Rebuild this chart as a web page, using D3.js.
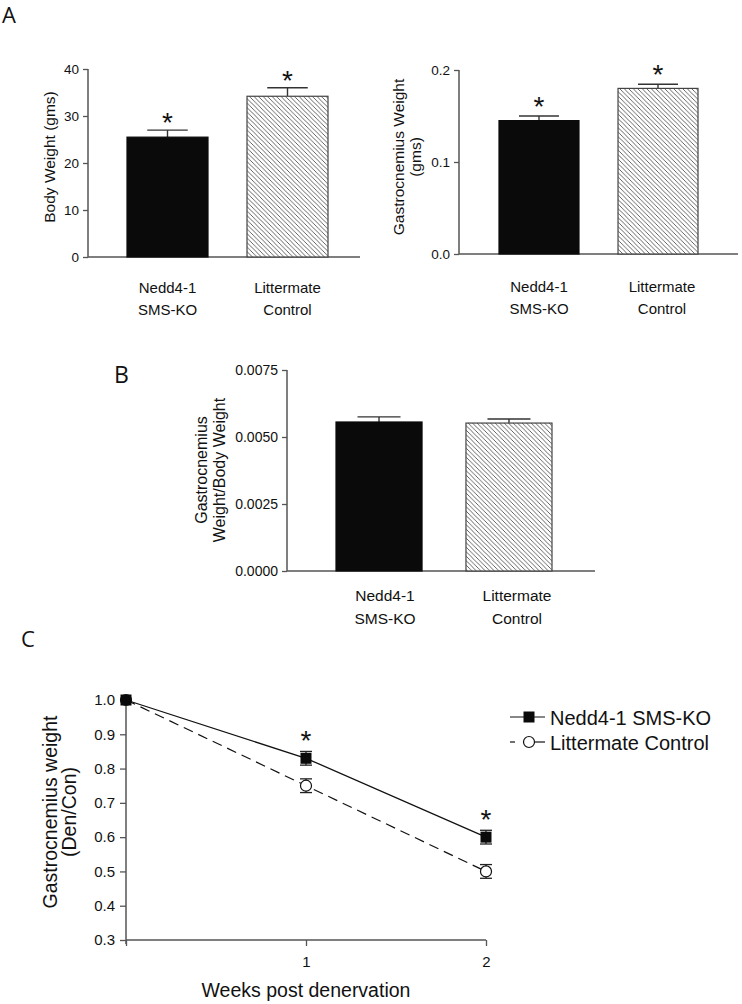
<!DOCTYPE html>
<html>
<head>
<meta charset="utf-8">
<script src="https://cdn.jsdelivr.net/npm/d3@7"></script>
<style>
  html, body { margin: 0; padding: 0; background: #fff; }
  svg { display: block; }
  text { font-family: "Liberation Sans", Arial, sans-serif; fill: #111; }
</style>
</head>
<body>
<svg id="chart" width="742" height="1004"></svg>
<script>
// ---------- data ----------
const groups = ["Nedd4-1 SMS-KO", "Littermate Control"];
const groupLabelLines = [["Nedd4-1", "SMS-KO"], ["Littermate", "Control"]];

const bodyWeight = [25.5, 34.2];
const bodyWeightErr = [1.5, 1.8];
const bodyWeightSig = [true, true];
const bodyWeightTicks = [0, 10, 20, 30, 40];

const gastroWeight = [0.145, 0.180];
const gastroWeightErr = [0.005, 0.0045];
const gastroWeightSig = [true, true];
const gastroWeightTicks = [0.0, 0.1, 0.2];

const ratioWeight = [0.00556, 0.00552];
const ratioWeightErr = [0.00019, 0.00015];
const ratioTicks = [0.0, 0.0025, 0.005, 0.0075];

const weeks = [0, 1, 2];
const weekTickLabels = ["", "1", "2"];
const koMean = [1.0, 0.83, 0.60];
const koErr = [0, 0.02, 0.02];
const ctrlMean = [1.0, 0.75, 0.50];
const ctrlErr = [0, 0.02, 0.02];
const weekSig = [false, true, true];
const ratioLineTicks = [0.3, 0.4, 0.5, 0.6, 0.7, 0.8, 0.9, 1.0];

// ---------- setup ----------
const svg = d3.select("#chart");
const AXIS = "#555";
const FONT = '"Liberation Sans", Arial, sans-serif';

const defs = svg.append("defs");
const pat = defs.append("pattern")
  .attr("id", "hatch").attr("patternUnits", "userSpaceOnUse")
  .attr("width", 4.5).attr("height", 4.5);
pat.append("rect").attr("width", 4.5).attr("height", 4.5).attr("fill", "#fff");
pat.append("path")
  .attr("d", "M-1,-1 L5.5,5.5 M-1,3.5 L1,5.5 M3.5,-1 L5.5,1")
  .attr("stroke", "#555").attr("stroke-width", 0.9);

function panelLetter(t, x, y, size) {
  svg.append("text").attr("x", x).attr("y", y)
    .style("font-family", '"Open Sans", "DejaVu Sans", sans-serif')
    .style("font-size", size + "px").text(t);
}

function styleAxis(g) {
  g.selectAll("path.domain").remove();
  g.selectAll("line").attr("stroke", AXIS).attr("stroke-width", 1.3);
}

function barPanel(o) {
  const g = svg.append("g");
  const x = d3.scaleBand().domain(groups).range(o.xr).paddingInner(o.padIn).paddingOuter(0);
  const y = d3.scaleLinear().domain(o.yDomain).range(o.yr);

  // y axis
  const ya = g.append("g").attr("transform", `translate(${o.axisX},0)`)
    .call(d3.axisLeft(y).tickValues(o.ticks).tickFormat(d3.format(o.fmt)).tickSize(5).tickPadding(4));
  styleAxis(ya);
  ya.selectAll("text").style("font-size", o.tickFont + "px").style("font-family", FONT).attr("fill", "#222");
  g.append("line").attr("x1", o.axisX).attr("x2", o.axisX)
    .attr("y1", y(o.yDomain[1])).attr("y2", y(o.yDomain[0]))
    .attr("stroke", AXIS).attr("stroke-width", 1.5);
  // x axis baseline
  g.append("line").attr("x1", o.axisX).attr("x2", o.xEnd)
    .attr("y1", y(0)).attr("y2", y(0)).attr("stroke", AXIS).attr("stroke-width", 1.5);

  // error bars (upper only)
  const cap = x.bandwidth() * 0.25;
  o.values.forEach((v, i) => {
    const cx = x(groups[i]) + x.bandwidth() / 2;
    g.append("line").attr("x1", cx).attr("x2", cx)
      .attr("y1", y(v)).attr("y2", y(v + o.err[i])).attr("stroke", "#333").attr("stroke-width", 1.4);
    g.append("line").attr("x1", cx - cap).attr("x2", cx + cap)
      .attr("y1", y(v + o.err[i])).attr("y2", y(v + o.err[i])).attr("stroke", "#333").attr("stroke-width", 1.4);
  });

  // bars
  g.selectAll("rect.bar").data(o.values).enter().append("rect")
    .attr("x", (d, i) => x(groups[i]))
    .attr("y", d => y(d))
    .attr("width", x.bandwidth())
    .attr("height", d => y(0) - y(d))
    .attr("fill", (d, i) => i === 0 ? "#0a0a0a" : "url(#hatch)")
    .attr("stroke", (d, i) => i === 0 ? "#0a0a0a" : "#444")
    .attr("stroke-width", 1.2);

  // significance stars
  if (o.sig) {
    o.values.forEach((v, i) => {
      if (!o.sig[i]) return;
      const cx = x(groups[i]) + x.bandwidth() / 2;
      g.append("text").attr("x", cx).attr("y", y(v + o.err[i]) - o.starGap + 16)
        .attr("text-anchor", "middle").style("font-size", "28px").text("*");
    });
  }

  // category labels
  groupLabelLines.forEach((lines, i) => {
    const cx = x(groups[i]) + x.bandwidth() / 2 + (o.labelShift ? o.labelShift[i] : 0);
    lines.forEach((ln, j) => {
      g.append("text").attr("x", cx).attr("y", o.labelY[j])
        .attr("text-anchor", "middle").style("font-size", o.catFont + "px").text(ln);
    });
  });

  // y label
  const cy = o.labelCY;
  o.yLabel.forEach((ln, j) => {
    g.append("text")
      .attr("transform", `translate(${o.yLabelX[j]},${cy}) rotate(-90)`)
      .attr("text-anchor", "middle").style("font-size", o.labelFont + "px").text(ln);
  });
}

// ---------- Panel A ----------
panelLetter("A", 2, 23, 22);

barPanel({
  xr: [127, 328], padIn: 0.325, axisX: 88, xEnd: 360,
  yDomain: [0, 40], yr: [257, 69], ticks: bodyWeightTicks, fmt: "d",
  values: bodyWeight, err: bodyWeightErr, sig: bodyWeightSig, starGap: 14,
  labelY: [293, 315], catFont: 15, tickFont: 13.5,
  yLabel: ["Body Weight (gms)"], yLabelX: [55], labelCY: 157, labelFont: 15.5
});

barPanel({
  xr: [499, 698], padIn: 0.328, axisX: 459, xEnd: 738,
  yDomain: [0, 0.2], yr: [254, 70], ticks: gastroWeightTicks, fmt: ".1f",
  values: gastroWeight, err: gastroWeightErr, sig: gastroWeightSig, starGap: 16,
  labelY: [292, 314], catFont: 15, tickFont: 13.5, labelShift: [0, 4],
  yLabel: ["Gastrocnemius Weight", "(gms)"], yLabelX: [404, 421], labelCY: 157, labelFont: 15.5
});

// ---------- Panel B ----------
panelLetter("B", 114, 383, 23);

barPanel({
  xr: [336, 552], padIn: 0.338, axisX: 287, xEnd: 595,
  yDomain: [0, 0.0075], yr: [571, 370], ticks: ratioTicks, fmt: ".4f",
  values: ratioWeight, err: ratioWeightErr, sig: null, starGap: 0,
  labelY: [601, 624], catFont: 15.5, tickFont: 14, labelShift: [6, 8],
  yLabel: ["Gastrocnemius", "Weight/Body Weight"], yLabelX: [207, 225], labelCY: 470, labelFont: 16
});

// ---------- Panel C ----------
panelLetter("C", 21, 647, 22);
{
  const g = svg.append("g");
  const x = d3.scaleLinear().domain([0, 2]).range([126, 486]);
  const y = d3.scaleLinear().domain([0.3, 1.0]).range([940, 700]);

  const ya = g.append("g").attr("transform", "translate(126,0)")
    .call(d3.axisLeft(y).tickValues(ratioLineTicks).tickFormat(d3.format(".1f")).tickSize(6).tickPadding(5));
  styleAxis(ya);
  ya.selectAll("text").style("font-size", "15px").style("font-family", FONT).attr("fill", "#222");

  const xa = g.append("g").attr("transform", "translate(0,940)")
    .call(d3.axisBottom(x).tickValues(weeks).tickFormat((d, i) => weekTickLabels[i]).tickSize(6).tickPadding(10));
  styleAxis(xa);
  xa.selectAll("text").style("font-size", "15px").style("font-family", FONT).attr("fill", "#222");

  g.append("line").attr("x1", 126).attr("x2", 126).attr("y1", y(1.0)).attr("y2", y(0.3) + 4)
    .attr("stroke", AXIS).attr("stroke-width", 1.5);
  g.append("line").attr("x1", 126).attr("x2", x(2)).attr("y1", y(0.3)).attr("y2", y(0.3))
    .attr("stroke", AXIS).attr("stroke-width", 1.5);

  const line = d3.line().x((d, i) => x(weeks[i])).y(d => y(d));

  g.append("path").datum(ctrlMean).attr("d", line).attr("fill", "none")
    .attr("stroke", "#111").attr("stroke-width", 1.2).attr("stroke-dasharray", "10,6");
  g.append("path").datum(koMean).attr("d", line).attr("fill", "none")
    .attr("stroke", "#111").attr("stroke-width", 1.3);

  function errBars(means, errs) {
    means.forEach((m, i) => {
      if (!errs[i]) return;
      const cx = x(weeks[i]);
      g.append("line").attr("x1", cx).attr("x2", cx).attr("y1", y(m - errs[i])).attr("y2", y(m + errs[i]))
        .attr("stroke", "#222").attr("stroke-width", 1.3);
      [m - errs[i], m + errs[i]].forEach(v => {
        g.append("line").attr("x1", cx - 6).attr("x2", cx + 6).attr("y1", y(v)).attr("y2", y(v))
          .attr("stroke", "#222").attr("stroke-width", 1.3);
      });
    });
  }
  errBars(ctrlMean, ctrlErr);
  errBars(koMean, koErr);

  g.selectAll("circle.ctrl").data(ctrlMean).enter().append("circle")
    .attr("cx", (d, i) => x(weeks[i])).attr("cy", d => y(d)).attr("r", 5.5)
    .attr("fill", "#fff").attr("stroke", "#111").attr("stroke-width", 1.2);
  g.selectAll("rect.ko").data(koMean).enter().append("rect")
    .attr("x", (d, i) => x(weeks[i]) - 5.5).attr("y", d => y(d) - 5.5)
    .attr("width", 11).attr("height", 11).attr("fill", "#0a0a0a");

  koMean.forEach((m, i) => {
    if (!weekSig[i]) return;
    g.append("text").attr("x", x(weeks[i])).attr("y", y(m + koErr[i]) - 17 + 16)
      .attr("text-anchor", "middle").style("font-size", "28px").text("*");
  });

  // axis titles
  g.append("text").attr("x", x(1)).attr("y", 997).attr("text-anchor", "middle")
    .style("font-size", "19.5px").text("Weeks post denervation");
  [["Gastrocnemius weight", 57], ["(Den/Con)", 76]].forEach(([t, xx]) => {
    g.append("text").attr("transform", `translate(${xx},812) rotate(-90)`)
      .attr("text-anchor", "middle").style("font-size", "19.5px").text(t);
  });

  // legend
  const lg = g.append("g");
  lg.append("line").attr("x1", 510).attr("x2", 545).attr("y1", 717).attr("y2", 717)
    .attr("stroke", "#111").attr("stroke-width", 1.2);
  lg.append("rect").attr("x", 523.5).attr("y", 711.5).attr("width", 11).attr("height", 11).attr("fill", "#0a0a0a");
  lg.append("text").attr("x", 550).attr("y", 724.5).style("font-size", "20px").text(groups[0]);
  lg.append("line").attr("x1", 510).attr("x2", 515).attr("y1", 742).attr("y2", 742)
    .attr("stroke", "#111").attr("stroke-width", 1.2);
  lg.append("line").attr("x1", 535).attr("x2", 545).attr("y1", 742).attr("y2", 742)
    .attr("stroke", "#111").attr("stroke-width", 1.2);
  lg.append("circle").attr("cx", 529).attr("cy", 742).attr("r", 5.5)
    .attr("fill", "#fff").attr("stroke", "#111").attr("stroke-width", 1.2);
  lg.append("text").attr("x", 550).attr("y", 749.5).style("font-size", "20px").text(groups[1]);
}
</script>
</body>
</html>
